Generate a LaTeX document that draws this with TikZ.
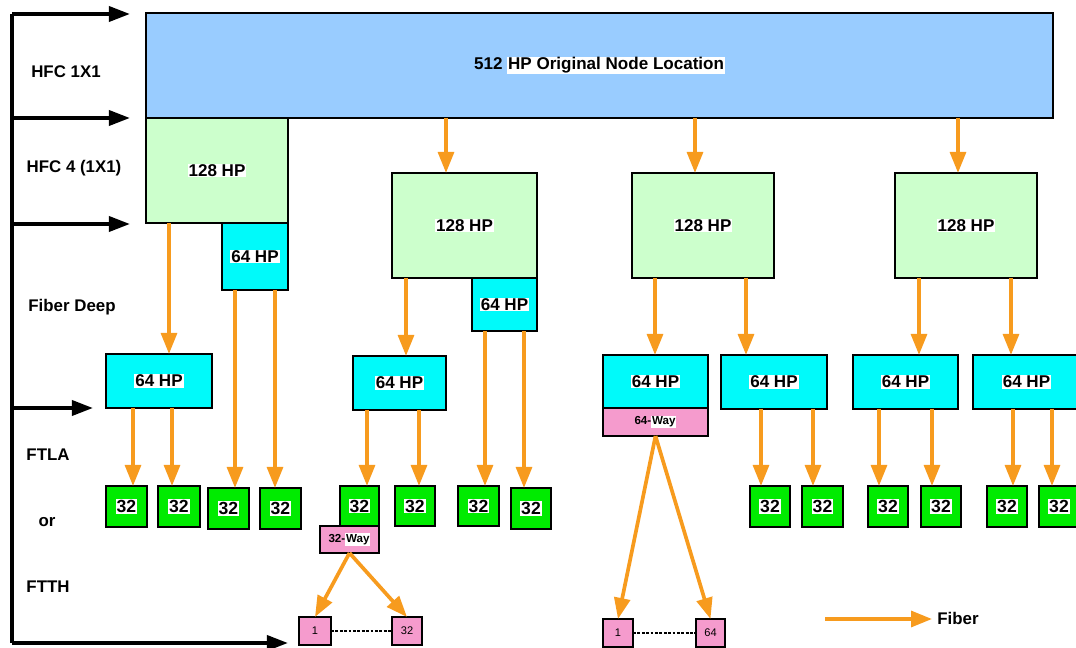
\documentclass[tikz,border=0pt]{standalone}
\usepackage{fontspec}
\setmainfont{Liberation Sans}
\usetikzlibrary{arrows.meta}

\definecolor{nodeblue}{RGB}{153,204,255}
\definecolor{hpgreen}{RGB}{204,255,204}
\definecolor{hpcyan}{RGB}{0,250,250}
\definecolor{tapgreen}{RGB}{0,235,0}
\definecolor{splitpink}{RGB}{245,155,205}
\definecolor{fiberorange}{RGB}{247,155,30}

% white text highlight
\newcommand\hl[1]{{\setlength\fboxsep{0.5pt}\colorbox{white}{#1}}}

% box from pixel corners (x1,y1)-(x2,y2)
\newcommand\pbox[7]{%
  \node[#6, minimum width={(#4-#2)*0.02cm}, minimum height={(#5-#3)*0.02cm}]
    (#1) at ({(#2+#4)/2},{(#3+#5)/2}) {#7};}

\tikzset{
  base/.style={draw=black, line width=1.4pt, inner sep=0pt, outer sep=0pt,
    font=\fontsize{9.7}{11}\selectfont\bfseries},
  origbox/.style={base, fill=nodeblue},
  hpbox/.style={base, fill=hpgreen},
  cyanbox/.style={base, fill=hpcyan},
  tapbox/.style={base, fill=tapgreen, font=\fontsize{10}{11}\selectfont\bfseries},
  waybox/.style={base, fill=splitpink, font=\fontsize{6.6}{8}\selectfont\bfseries},
  homebox/.style={base, fill=splitpink, font=\fontsize{6.3}{8}\selectfont},
  lvl/.style={font=\fontsize{9.6}{11}\selectfont\bfseries, inner sep=0pt},
  fiber/.style={draw=fiberorange, line width=2.1pt,
    -{Triangle[width=9pt,length=12pt]}},
  level/.style={draw=black, line width=2.2pt,
    -{Triangle[width=8.5pt,length=12pt]}},
  homelink/.style={draw=black, line width=1.1pt, dash pattern=on 1.6pt off 0.9pt},
}

\begin{document}
\begin{tikzpicture}[x=0.02cm, y=-0.02cm]
\useasboundingbox (0,0) rectangle (1076,648);
\clip (0,0) rectangle (1076,648);

% level bracket on the left
\coordinate (lvTop) at (12,14);
\coordinate (lvBot) at (12,643);
\coordinate (lv1) at (12,118);
\coordinate (lv2) at (12,224);
\coordinate (lv3) at (12,408);
\coordinate (tTop) at (130,14);
\coordinate (t1) at (130,118);
\coordinate (t2) at (130,224);
\coordinate (t3) at (93,408);
\coordinate (tBot) at (288,643);
\draw[line width=2.2pt] (lvTop) -- (lvBot);
\draw[level] (lvTop) -- (tTop);
\draw[level] (lv1) -- (t1);
\draw[level] (lv2) -- (t2);
\draw[level] (lv3) -- (t3);
\draw[level] (lvBot) -- (tBot);

\node[lvl] (lHfc) at (66,72) {HFC 1X1};
\node[lvl] (lHfc4) at (74,168) {HFC 4 (1X1)};
\node[lvl] (lDeep) at (72,307) {Fiber Deep};
\node[lvl] (lFtla) at (48,455) {FTLA};
\node[lvl] (lOr) at (47,522) {or};
\node[lvl] (lFtth) at (48,587) {FTTH};

% original node
\pbox{orig}{146}{13}{1053}{118}{origbox}{512 \hl{HP Original Node Location}}

% 128 HP nodes
\pbox{h1}{146}{118}{288}{223}{hpbox}{\hl{128 HP}}
\pbox{h2}{392}{173}{537}{278}{hpbox}{\hl{128 HP}}
\pbox{h3}{632}{173}{774}{278}{hpbox}{\hl{128 HP}}
\pbox{h4}{895}{173}{1037}{278}{hpbox}{\hl{128 HP}}

% 64 HP attached to 128 HP nodes
\pbox{s1}{222}{223}{288}{290}{cyanbox}{\hl{64 HP}}
\pbox{s2}{472}{278}{537}{331}{cyanbox}{\hl{64 HP}}

% fiber deep 64 HP nodes
\pbox{f1}{106}{354}{212}{408}{cyanbox}{\hl{64 HP}}
\pbox{f2}{353}{356}{446}{410}{cyanbox}{\hl{64 HP}}
\pbox{f3}{603}{355}{708}{408}{cyanbox}{\hl{64 HP}}
\pbox{way3}{603}{408}{708}{436}{waybox}{64-\hl{Way}}
\pbox{f4}{721}{355}{827}{409}{cyanbox}{\hl{64 HP}}
\pbox{f5}{853}{355}{958}{409}{cyanbox}{\hl{64 HP}}
\pbox{f6}{973}{355}{1080}{409}{cyanbox}{\hl{64 HP}}

% 32 HP taps
\pbox{g1}{106}{486}{147}{527}{tapbox}{\hl{32}}
\pbox{g2}{158}{486}{200}{527}{tapbox}{\hl{32}}
\pbox{g3}{208}{488}{249}{529}{tapbox}{\hl{32}}
\pbox{g4}{260}{488}{301}{529}{tapbox}{\hl{32}}
\pbox{g5}{340}{486}{379}{526}{tapbox}{\hl{32}}
\pbox{g6}{395}{486}{435}{526}{tapbox}{\hl{32}}
\pbox{g7}{458}{486}{499}{526}{tapbox}{\hl{32}}
\pbox{g8}{511}{488}{551}{529}{tapbox}{\hl{32}}
\pbox{g9}{750}{486}{790}{527}{tapbox}{\hl{32}}
\pbox{g10}{802}{486}{843}{527}{tapbox}{\hl{32}}
\pbox{g11}{868}{486}{908}{527}{tapbox}{\hl{32}}
\pbox{g12}{921}{486}{961}{527}{tapbox}{\hl{32}}
\pbox{g13}{987}{486}{1027}{527}{tapbox}{\hl{32}}
\pbox{g14}{1039}{486}{1079}{527}{tapbox}{\hl{32}}

% splitters and homes
\pbox{way5}{320}{526}{379}{553}{waybox}{32-\hl{Way}}
\pbox{p1}{299}{617}{331}{645}{homebox}{1}
\pbox{p2}{392}{617}{422}{645}{homebox}{32}
\pbox{p3}{603}{619}{633}{647}{homebox}{1}
\pbox{p4}{696}{619}{725}{647}{homebox}{64}
\draw[homelink] (p1.east) -- (p2.west);
\draw[homelink] (p3.east) -- (p4.west);

% fiber runs
\draw[fiber] (orig.south -| 446,0) -- (h2.north -| 446,0);
\draw[fiber] (orig.south -| 695,0) -- (h3.north -| 695,0);
\draw[fiber] (orig.south -| 958,0) -- (h4.north -| 958,0);

\draw[fiber] (h1.south -| 169,0) -- (f1.north -| 169,0);
\draw[fiber] (s1.south -| 235,0) -- (g3.north -| 235,0);
\draw[fiber] (s1.south -| 275,0) -- (g4.north -| 275,0);
\draw[fiber] (f1.south -| 133,0) -- (g1.north -| 133,0);
\draw[fiber] (f1.south -| 172,0) -- (g2.north -| 172,0);

\draw[fiber] (h2.south -| 406,0) -- (f2.north -| 406,0);
\draw[fiber] (s2.south -| 485,0) -- (g7.north -| 485,0);
\draw[fiber] (s2.south -| 524,0) -- (g8.north -| 524,0);
\draw[fiber] (f2.south -| 367,0) -- (g5.north -| 367,0);
\draw[fiber] (f2.south -| 419,0) -- (g6.north -| 419,0);

\draw[fiber] (h3.south -| 655,0) -- (f3.north -| 655,0);
\draw[fiber] (h3.south -| 746,0) -- (f4.north -| 746,0);
\draw[fiber] (f4.south -| 761,0) -- (g9.north -| 761,0);
\draw[fiber] (f4.south -| 813,0) -- (g10.north -| 813,0);

\draw[fiber] (h4.south -| 919,0) -- (f5.north -| 919,0);
\draw[fiber] (h4.south -| 1011,0) -- (f6.north -| 1011,0);
\draw[fiber] (f5.south -| 879,0) -- (g11.north -| 879,0);
\draw[fiber] (f5.south -| 932,0) -- (g12.north -| 932,0);
\draw[fiber] (f6.south -| 1013,0) -- (g13.north -| 1013,0);
\draw[fiber] (f6.south -| 1052,0) -- (g14.north -| 1052,0);

\draw[fiber] (way5.south) -- (p1.north);
\draw[fiber] (way5.south) -- (p2.north);
\draw[fiber] (way3.south) -- (p3.north);
\draw[fiber] (way3.south) -- (p4.north);

% legend
\coordinate (legA) at (825,619);
\node[lvl, anchor=west] (legT) at (937,618) {Fiber};
\draw[fiber, shorten >=2.8pt] (legA) -- (legA -| legT.west);
\end{tikzpicture}
\end{document}
